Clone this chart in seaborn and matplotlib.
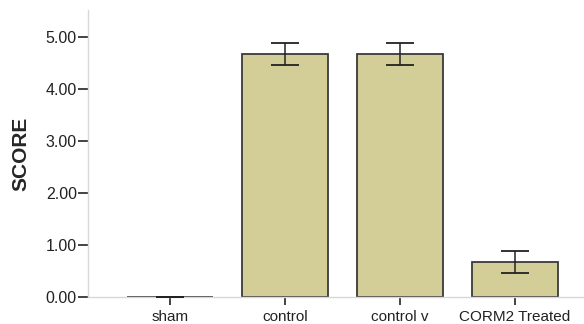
import matplotlib
matplotlib.use("Agg")
import matplotlib.pyplot as plt
import seaborn as sns
import pandas as pd
import numpy as np

categories = ["sham", "control", "control v", "CORM2 Treated"]
scores = [0.0, 4.67, 4.67, 0.67]
errors = [0.0, 0.21, 0.21, 0.21]
yticks = [0, 1, 2, 3, 4, 5]

sns.set_theme(style="white")
plt.rcParams["font.family"] = ["Liberation Sans", "DejaVu Sans"]

df = pd.DataFrame({"group": categories, "score": scores})

fig = plt.figure(figsize=(5.84, 3.24), dpi=100)
ax = fig.add_axes([88/584, 1-297/324, 1-88/584, (297-10)/324])

sns.barplot(data=df, x="group", y="score", order=categories, color="#D3CE97",
            saturation=1, width=0.755, edgecolor="#3a3a3a", linewidth=1.3,
            errorbar=None, ax=ax)
ax.errorbar(x=np.arange(len(categories)), y=scores, yerr=errors, fmt="none",
            ecolor="#222222", elinewidth=1.1, capsize=10.4, capthick=1.3, zorder=5)

ax.set_xlim(-0.713, 3.6)
ax.set_ylim(0, 5.52)
ax.set_yticks(yticks)
ax.set_yticklabels([f"{v:.2f}" for v in yticks])
ax.set_xlabel("")
ax.set_ylabel("SCORE", fontsize=15, fontweight="bold", labelpad=11)

for s in ["top", "right"]:
    ax.spines[s].set_visible(False)
for s in ["left", "bottom"]:
    ax.spines[s].set_color("#d8d8d8")
    ax.spines[s].set_linewidth(1.0)

ax.tick_params(axis="y", which="major", left=True, length=7.5, width=1.2,
               color="#222222", pad=0.5, labelsize=11.5, labelcolor="#222222")
ax.tick_params(axis="x", which="major", bottom=True, length=6, width=1.2,
               color="#222222", pad=3.3, labelsize=11, labelcolor="#222222")

fig.savefig("out.png", dpi=100)
